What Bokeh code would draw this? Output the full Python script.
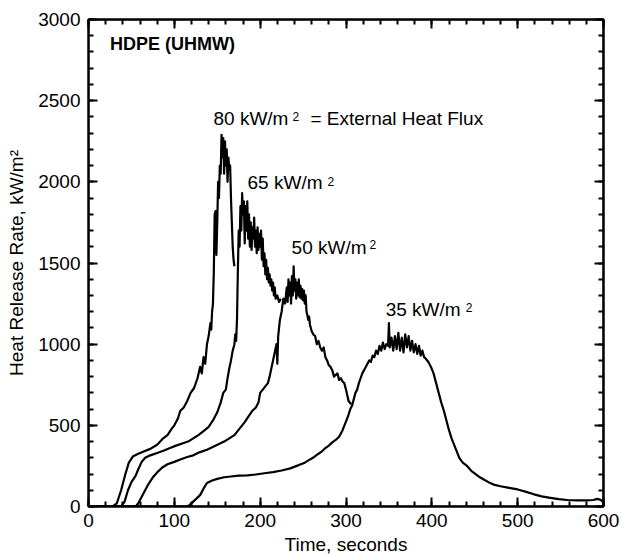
from bokeh.plotting import figure
from bokeh.models import LinearAxis, Range1d, FixedTicker, Label, CustomJSTickFormatter, BoxAnnotation
from bokeh.layouts import column
from bokeh.embed import file_html
from bokeh.resources import INLINE

# ---- data ----
t80 = [0, 28, 33, 38, 43, 47, 52, 58, 65, 72, 80, 87, 92, 97, 100, 104, 107, 111, 115, 119,
       123, 127, 130, 132, 134, 136, 138, 140, 142, 143, 144, 145, 146, 147, 148, 149, 150,
       151, 152, 153, 154, 155, 156, 157, 158, 159, 160, 161, 162, 163, 164, 165, 166, 167,
       168, 169, 170]
hrr80 = [0, 0, 20, 100, 200, 270, 310, 325, 340, 355, 380, 420, 440, 480, 500, 540, 590, 610,
         650, 700, 730, 790, 860, 820, 920, 880, 1000, 1050, 1130, 1090, 1200, 1250, 1450, 1800,
         1820, 1550, 1750, 2000, 1900, 2100, 2050, 2290, 2150, 2270, 2050, 2250, 2100, 2200,
         2000, 2150, 2080, 2100, 1900, 1750, 1600, 1520, 1480]

t65 = [0, 38, 42, 46, 50, 55, 58, 62, 66, 72, 80, 88, 95, 102, 110, 116, 122, 128, 134, 140,
       145, 150, 154, 157, 160, 162, 164, 166, 168, 170, 171, 172, 173, 174, 175, 176, 177,
       178, 179, 180, 181, 182, 183, 184, 185, 186, 187, 188, 189, 190, 191, 192, 193, 194,
       195, 196, 197, 198, 199, 200, 201, 202, 203, 204, 205, 206, 207, 208, 209, 210, 211,
       212, 213, 214, 215, 216, 217, 218, 220, 222, 224]
hrr65 = [0, 0, 30, 100, 150, 190, 230, 275, 300, 315, 330, 345, 360, 375, 390, 400, 420, 440,
         465, 490, 530, 580, 640, 700, 720, 790, 850, 900, 960, 1000, 1060, 1020, 1150, 1450,
         1700, 1600, 1850, 1700, 1930, 1800, 1880, 1620, 1850, 1700, 1880, 1650, 1800, 1600,
         1750, 1580, 1720, 1650, 1780, 1600, 1700, 1560, 1720, 1580, 1680, 1600, 1700, 1520,
         1650, 1480, 1560, 1430, 1520, 1400, 1470, 1380, 1430, 1360, 1400, 1330, 1380, 1300,
         1350, 1280, 1300, 1260, 1280]

t50 = [0, 55, 58, 62, 66, 70, 75, 80, 86, 92, 100, 107, 115, 122, 130, 138, 146, 152, 158,
       164, 170, 176, 182, 187, 191, 195, 198, 200, 203, 206, 209, 211, 213, 215, 217, 219,
       220, 221, 222, 223, 225, 227, 229, 231, 232, 233, 234, 235, 236, 237, 238, 239, 240,
       241, 242, 243, 244, 245, 246, 247, 248, 249, 250, 251, 252, 253, 254, 255, 256, 257,
       258, 260, 262, 264, 266, 268, 270, 272, 274, 276, 278, 280, 282, 284, 286, 288, 290,
       292, 294, 296, 298, 300, 303, 306]
hrr50 = [0, 0, 20, 60, 100, 140, 180, 210, 240, 260, 275, 290, 305, 315, 335, 350, 370, 385,
         400, 420, 440, 480, 520, 560, 590, 610, 640, 700, 720, 740, 760, 800, 850, 900, 950,
         1000, 880, 1050, 1100, 1150, 1200, 1280, 1250, 1350, 1260, 1400, 1300, 1380, 1250,
         1420, 1300, 1480, 1330, 1400, 1280, 1380, 1300, 1400, 1290, 1360, 1280, 1340, 1270,
         1330, 1250, 1300, 1200, 1180, 1150, 1170, 1120, 1080, 1060, 1050, 1000, 1020, 980,
         960, 980, 920, 900, 870, 860, 840, 800, 810, 820, 780, 790, 770, 760, 720, 650, 630]

t35 = [0, 115, 118, 122, 126, 130, 134, 138, 144, 150, 158, 166, 175, 185, 195, 205, 215, 225,
       235, 245, 252, 258, 263, 268, 272, 276, 280, 284, 288, 292, 296, 299, 302, 305, 307,
       309, 311, 313, 315, 317, 319, 321, 323, 325, 327, 329, 331, 333, 335, 337, 339, 341,
       343, 345, 347, 349, 350, 351, 353, 355, 357, 359, 361, 363, 365, 367, 369, 371, 373,
       375, 377, 379, 381, 383, 385, 387, 389, 391, 393, 396, 399, 402, 405, 408, 411, 414,
       417, 420, 423, 426, 429, 432, 436, 441, 446, 451, 456, 461, 466, 472, 480, 490, 500,
       510, 519, 528, 538, 548, 558, 570, 580, 588, 593, 597, 600]
hrr35 = [0, 0, 10, 30, 50, 70, 110, 145, 160, 170, 180, 185, 190, 192, 197, 205, 212, 222, 235,
         255, 270, 290, 305, 325, 340, 360, 375, 395, 410, 430, 470, 510, 550, 600, 620, 660,
         700, 720, 760, 790, 820, 840, 860, 880, 900, 890, 930, 920, 960, 940, 990, 960, 1010,
         970, 1000, 990, 1130, 980, 1040, 960, 1050, 970, 1070, 960, 1040, 950, 1060, 980,
         1050, 960, 1020, 950, 1000, 940, 990, 930, 960, 920, 910, 890, 860, 820, 760, 700,
         640, 590, 530, 470, 420, 380, 340, 300, 270, 250, 220, 200, 180, 165, 150, 135, 125,
         115, 105, 90, 75, 62, 53, 45, 40, 38, 38, 40, 47, 40, 25]

x_ticks = [0, 100, 200, 300, 400, 500, 600]
y_ticks = [0, 500, 1000, 1500, 2000, 2500, 3000]
x_minor = list(range(0, 601, 20))
y_minor = list(range(0, 3001, 100))

# curve annotations: main text, superscript "2", trailing text
curve_text = ["80 kW/m", "65 kW/m", "50 kW/m", "35 kW/m"]
text_x = [145.6, 185.3, 236.6, 346.2]
text_y = [2388, 1995, 1598, 1211]
sup_x = [237.7, 278.5, 327.5, 439.4]
sup_y = [2402, 2005, 1612, 1228]
tail_text = "= External Heat Flux"
tail_x = 258.6
tail_y = 2388

FONT = "Liberation Sans"
FS = "19px"

p = figure(width=622, height=557, output_backend="svg", toolbar_location=None,
           x_range=Range1d(0, 600), y_range=Range1d(0, 3000),
           x_axis_label="Time, seconds", y_axis_label="Heat Release Rate, kW/m\u00b2",
           min_border_left=88, min_border_right=19, min_border_top=19, min_border_bottom=50)
p.grid.visible = False
p.outline_line_color = "black"
p.outline_line_width = 2

# all four curves in one renderer
p.multi_line(xs=[t80, t65, t50, t35], ys=[hrr80, hrr65, hrr50, hrr35],
             line_color="black", line_width=2.2, line_join="round")

# frame border (spans the whole plot frame)
p.add_layout(BoxAnnotation(fill_alpha=0, line_color="black", line_width=2, level="overlay"))

def style(ax, ticks, minor, labels=True):
    ax.ticker = FixedTicker(ticks=ticks, minor_ticks=minor)
    ax.axis_line_color = "black"
    ax.axis_line_width = 2
    ax.major_tick_in = 9
    ax.major_tick_out = 0
    ax.minor_tick_in = 5
    ax.minor_tick_out = 0
    ax.major_tick_line_width = 2
    ax.minor_tick_line_width = 2
    ax.major_tick_line_color = "black"
    ax.minor_tick_line_color = "black"
    if labels:
        ax.major_label_text_font = FONT
        ax.major_label_text_font_size = FS
        ax.major_label_text_color = "black"
        ax.axis_label_text_font = FONT
        ax.axis_label_text_font_size = FS
        ax.axis_label_text_font_style = "normal"
        ax.axis_label_text_color = "black"
    else:
        ax.formatter = CustomJSTickFormatter(code="return '';")
        ax.major_label_standoff = 0

style(p.xaxis[0], x_ticks, x_minor)
style(p.yaxis[0], y_ticks, y_minor)
p.xaxis[0].major_label_standoff = 7
p.xaxis[0].axis_label_standoff = 4
p.yaxis[0].major_label_standoff = 8
p.yaxis[0].axis_label_standoff = 8

top = LinearAxis()
style(top, x_ticks, x_minor, labels=False)
p.add_layout(top, "above")
right = LinearAxis()
style(right, y_ticks, y_minor, labels=False)
p.add_layout(right, "right")

p.add_layout(Label(x=25, y=2852, text="HDPE (UHMW)", text_font=FONT, text_font_size="18px",
                   text_font_style="bold", text_baseline="middle", text_color="black"))
for txt, lx, ly, sx, sy in zip(curve_text, text_x, text_y, sup_x, sup_y):
    p.add_layout(Label(x=lx, y=ly, text=txt, text_font=FONT, text_font_size=FS,
                       text_baseline="middle", text_color="black"))
    p.add_layout(Label(x=sx, y=sy, text="2", text_font=FONT, text_font_size="12px",
                       text_baseline="middle", text_color="black"))
p.add_layout(Label(x=tail_x, y=tail_y, text=tail_text, text_font=FONT, text_font_size=FS,
                   text_baseline="middle", text_color="black"))

open("out.html", "w").write(file_html(column(p), INLINE))
